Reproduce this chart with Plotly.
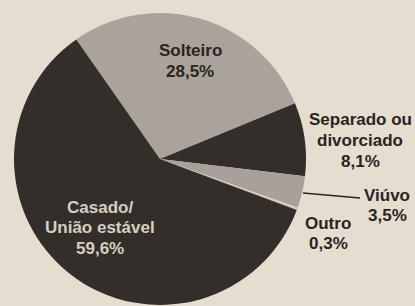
import plotly.graph_objects as go

# Data
categories = ["Solteiro", "Separado ou divorciado", "Viúvo", "Outro", "Casado/ União estável"]
values = [28.5, 8.1, 3.5, 0.3, 59.6]
label_lines = [["Solteiro"], ["Separado ou", "divorciado"], ["Viúvo"], ["Outro"], ["Casado/", "União estável"]]

W, H = 415, 306
BG = "#e6ddd1"
slice_colors = ["#a9a39b", "#332e2a", "#a7a199", "#d3cbbf", "#332e2a"]

fig = go.Figure()
fig.add_trace(go.Pie(
    labels=categories,
    values=values,
    sort=False,
    direction="clockwise",
    rotation=-35,
    marker=dict(colors=slice_colors, line=dict(width=0)),
    textinfo="none",
    hoverinfo="label+percent",
    showlegend=False,
    domain=dict(x=[14 / W, 306 / W], y=[1 / H, 293 / H]),
))

# label centres (px from top-left) of each label block's first line
label_pos = [(190, 51), (360, 120), (387, 195), (328, 223), (100, 207)]
label_colors = ["#2a2420", "#2a2420", "#2a2420", "#2a2420", "#d6cec3"]
line_gap = 20.5

annotations = []
for lines, val, (px, py), col in zip(label_lines, values, label_pos, label_colors):
    all_lines = lines + [f"{val:.1f}%".replace(".", ",")]
    for i, t in enumerate(all_lines):
        annotations.append(dict(
            x=px / W, y=1 - (py + i * line_gap) / H, xref="paper", yref="paper",
            text=f"<b>{t}</b>", showarrow=False, xanchor="center", yanchor="middle",
            font=dict(family="Liberation Sans, Arial, sans-serif", size=17, color=col),
        ))

fig.update_layout(
    width=W, height=H,
    margin=dict(l=0, r=0, t=0, b=0),
    paper_bgcolor=BG, plot_bgcolor=BG,
    annotations=annotations,
    shapes=[dict(type="line", xref="paper", yref="paper",
                 x0=303 / W, y0=1 - 193 / H, x1=360 / W, y1=1 - 198 / H,
                 line=dict(color="#2a2420", width=1.5))],
)

fig.write_html(
    "out.html",
    config={"displayModeBar": False},
    post_script="document.body.style.margin='0';document.body.style.background='%s';" % BG,
)
